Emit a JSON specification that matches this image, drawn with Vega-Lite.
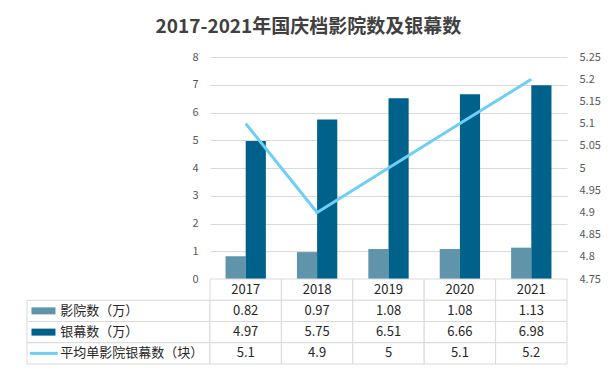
{
  "$schema": "https://vega.github.io/schema/vega-lite/v6.json",
  "background": "white",
  "padding": {"left": 26, "top": 18, "right": 8, "bottom": 8},
  "title": {"text": "2017-2021年国庆档影院数及银幕数", "fontSize": 19, "font": "Noto Sans CJK SC", "fontWeight": "bold", "color": "#404040", "anchor": "middle", "offset": 14, "dx": -5},
  "config": {"view": {"stroke": null}, "font": "Noto Sans CJK SC"},
  "datasets": {
    "main": [
      {"year": "2017", "影院数（万）": 0.82, "银幕数（万）": 4.97, "平均单影院银幕数（块）": 5.1},
      {"year": "2018", "影院数（万）": 0.97, "银幕数（万）": 5.75, "平均单影院银幕数（块）": 4.9},
      {"year": "2019", "影院数（万）": 1.08, "银幕数（万）": 6.51, "平均单影院银幕数（块）": 5},
      {"year": "2020", "影院数（万）": 1.08, "银幕数（万）": 6.66, "平均单影院银幕数（块）": 5.1},
      {"year": "2021", "影院数（万）": 1.13, "银幕数（万）": 6.98, "平均单影院银幕数（块）": 5.2}
    ],
    "series": [
      {"name": "影院数（万）", "kind": "bar"},
      {"name": "银幕数（万）", "kind": "bar"},
      {"name": "平均单影院银幕数（块）", "kind": "line"}
    ]
  },
  "columns": 2,
  "spacing": 0,
  "bounds": "flush",
  "concat": [
    {
      "width": 183, "height": 222,
      "data": {"values": [{}]},
      "mark": {"type": "text", "text": ""},
      "encoding": {}
    },
    {
      "width": 357, "height": 222,
      "data": {"name": "main"},
      "layer": [
        {
          "transform": [{"fold": ["影院数（万）", "银幕数（万）"], "as": ["series", "value"]}],
          "mark": {"type": "bar"},
          "encoding": {
            "x": {"field": "year", "type": "nominal", "scale": {"paddingInner": 0.435, "paddingOuter": 0.2175}, "axis": null},
            "xOffset": {"field": "series", "type": "nominal", "sort": ["影院数（万）", "银幕数（万）"], "scale": {"paddingInner": 0, "paddingOuter": 0}},
            "y": {"field": "value", "type": "quantitative", "scale": {"domain": [0, 8]},
                  "axis": {"orient": "left", "values": [0, 1, 2, 3, 4, 5, 6, 7, 8], "grid": true, "gridColor": "#d9d9d9", "domain": false, "ticks": false, "labelPadding": 12, "labelColor": "#595959", "labelFontSize": 11, "title": null}},
            "color": {"field": "series", "type": "nominal", "scale": {"domain": ["影院数（万）", "银幕数（万）", "平均单影院银幕数（块）"], "range": ["#5f94aa", "#00628a", "#6dcff6"]}, "legend": null}
          }
        },
        {
          "mark": {"type": "line", "strokeWidth": 3, "color": "#6dcff6"},
          "encoding": {
            "x": {"field": "year", "type": "nominal"},
            "y": {"field": "平均单影院银幕数（块）", "type": "quantitative", "scale": {"domain": [4.75, 5.25]},
                  "axis": {"orient": "right", "values": [4.75, 4.8, 4.85, 4.9, 4.95, 5, 5.05, 5.1, 5.15, 5.2, 5.25], "format": "~g", "grid": false, "domain": false, "ticks": false, "labelPadding": 12, "labelColor": "#595959", "labelFontSize": 11, "title": null}}
          }
        }
      ],
      "resolve": {"scale": {"y": "independent"}}
    },
    {
      "width": 183, "height": 85,
      "data": {"name": "series"},
      "encoding": {
        "y": {"field": "name", "type": "nominal", "scale": {"domain": ["year", "影院数（万）", "银幕数（万）", "平均单影院银幕数（块）"], "paddingInner": 0, "paddingOuter": 0}, "axis": null}
      },
      "layer": [
        {
          "mark": {"type": "rect", "fill": "white", "stroke": "#d9d9d9"},
          "encoding": {"x": {"datum": 0, "type": "quantitative", "scale": {"domain": [0, 1]}, "axis": null}, "x2": {"datum": 1}}
        },
        {
          "transform": [{"filter": "datum.kind === 'bar'"}],
          "mark": {"type": "tick", "orient": "horizontal", "thickness": 7, "size": 24, "opacity": 1},
          "encoding": {
            "x": {"datum": 0.09, "type": "quantitative"},
            "color": {"field": "name", "type": "nominal", "scale": {"domain": ["影院数（万）", "银幕数（万）", "平均单影院银幕数（块）"], "range": ["#5f94aa", "#00628a", "#6dcff6"]}, "legend": null}
          }
        },
        {
          "transform": [{"filter": "datum.kind === 'line'"}],
          "mark": {"type": "tick", "orient": "horizontal", "thickness": 3, "size": 28, "opacity": 1},
          "encoding": {
            "x": {"datum": 0.092, "type": "quantitative"},
            "color": {"field": "name", "type": "nominal", "legend": null}
          }
        },
        {
          "mark": {"type": "text", "align": "left", "fontSize": 13, "color": "#262626"},
          "encoding": {
            "x": {"datum": 0.182, "type": "quantitative"},
            "text": {"field": "name", "type": "nominal"}
          }
        }
      ]
    },
    {
      "width": 357, "height": 85,
      "data": {"name": "main"},
      "transform": [{"fold": ["year", "影院数（万）", "银幕数（万）", "平均单影院银幕数（块）"], "as": ["row", "cell"]}],
      "encoding": {
        "x": {"field": "year", "type": "nominal", "scale": {"paddingInner": 0, "paddingOuter": 0}, "axis": null},
        "y": {"field": "row", "type": "nominal", "scale": {"domain": ["year", "影院数（万）", "银幕数（万）", "平均单影院银幕数（块）"], "paddingInner": 0, "paddingOuter": 0}, "axis": null}
      },
      "layer": [
        {"mark": {"type": "rect", "fill": "white", "stroke": "#d9d9d9"}},
        {"mark": {"type": "text", "fontSize": 13, "color": "#262626"}, "encoding": {"text": {"field": "cell", "type": "nominal"}}}
      ]
    }
  ]
}
